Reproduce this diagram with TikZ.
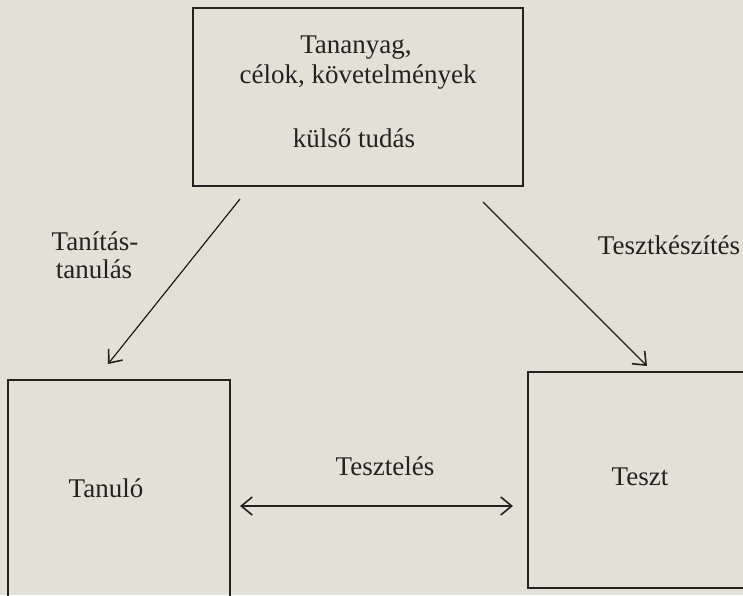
\documentclass[tikz,border=0pt]{standalone}
\usepackage{fontspec}
\setmainfont{Liberation Serif}
\usetikzlibrary{arrows.meta}
\definecolor{paper}{HTML}{E3E0D6}
\definecolor{ink}{HTML}{24221F}
\begin{document}
\begin{tikzpicture}[x=1pt,y=-1pt,
  box/.style={draw=ink, line width=1.4pt, inner sep=0pt},
  lbl/.style={font=\fontsize{27}{32}\selectfont, text=ink, anchor=base, inner sep=0pt},
  tipstyle/.style={},
  arr/.style={draw=ink, line width=1.2pt, -{Straight Barb[length=11pt,width=18pt,line width=1.6pt]}},
  darr/.style={draw=ink, line width=1.2pt, {Straight Barb[length=11pt,width=18pt,line width=1.6pt]}-{Straight Barb[length=11pt,width=18pt,line width=1.6pt]}}]
\useasboundingbox (0,0) rectangle (743,595);
\fill[paper] (0,0) rectangle (743,595);
\clip (0,0) rectangle (743,595);
% boxes
\node[box, minimum width=330pt, minimum height=178pt] (top) at (358,97) {};
\node[box, minimum width=222pt, minimum height=240pt] (lbox) at (119,500) {};
\node[box, minimum width=252pt, minimum height=216pt] (rbox) at (654,480) {};
% texts
\node[lbl] (t1) at (356,53) {Tananyag,};
\node[lbl] (t2) at (358,83) {célok, követelmények};
\node[lbl] (t3) at (354,147) {külső tudás};
\node[lbl] (tanulo) at (106,497) {Tanuló};
\node[lbl] (teszt) at (640,485) {Teszt};
\node[lbl] (tanitas1) at (95,250) {Tanítás-};
\node[lbl] (tanitas2) at (94,278) {tanulás};
\node[lbl] (tkesz) at (669,254) {Tesztkészítés};
\node[lbl] (tesztel) at (385,475) {Tesztelés};
% connector ends
\coordinate (ls) at (240,199);
\coordinate (le) at (108,364);
\coordinate (rs) at (483,202);
\coordinate (re) at (647,366);
\coordinate (hs) at (240,506);
\coordinate (he) at (513,506);
\draw[arr] (ls) -- (le);
\draw[arr] (rs) -- (re);
\draw[darr] (hs) -- (he);
\end{tikzpicture}
\end{document}
